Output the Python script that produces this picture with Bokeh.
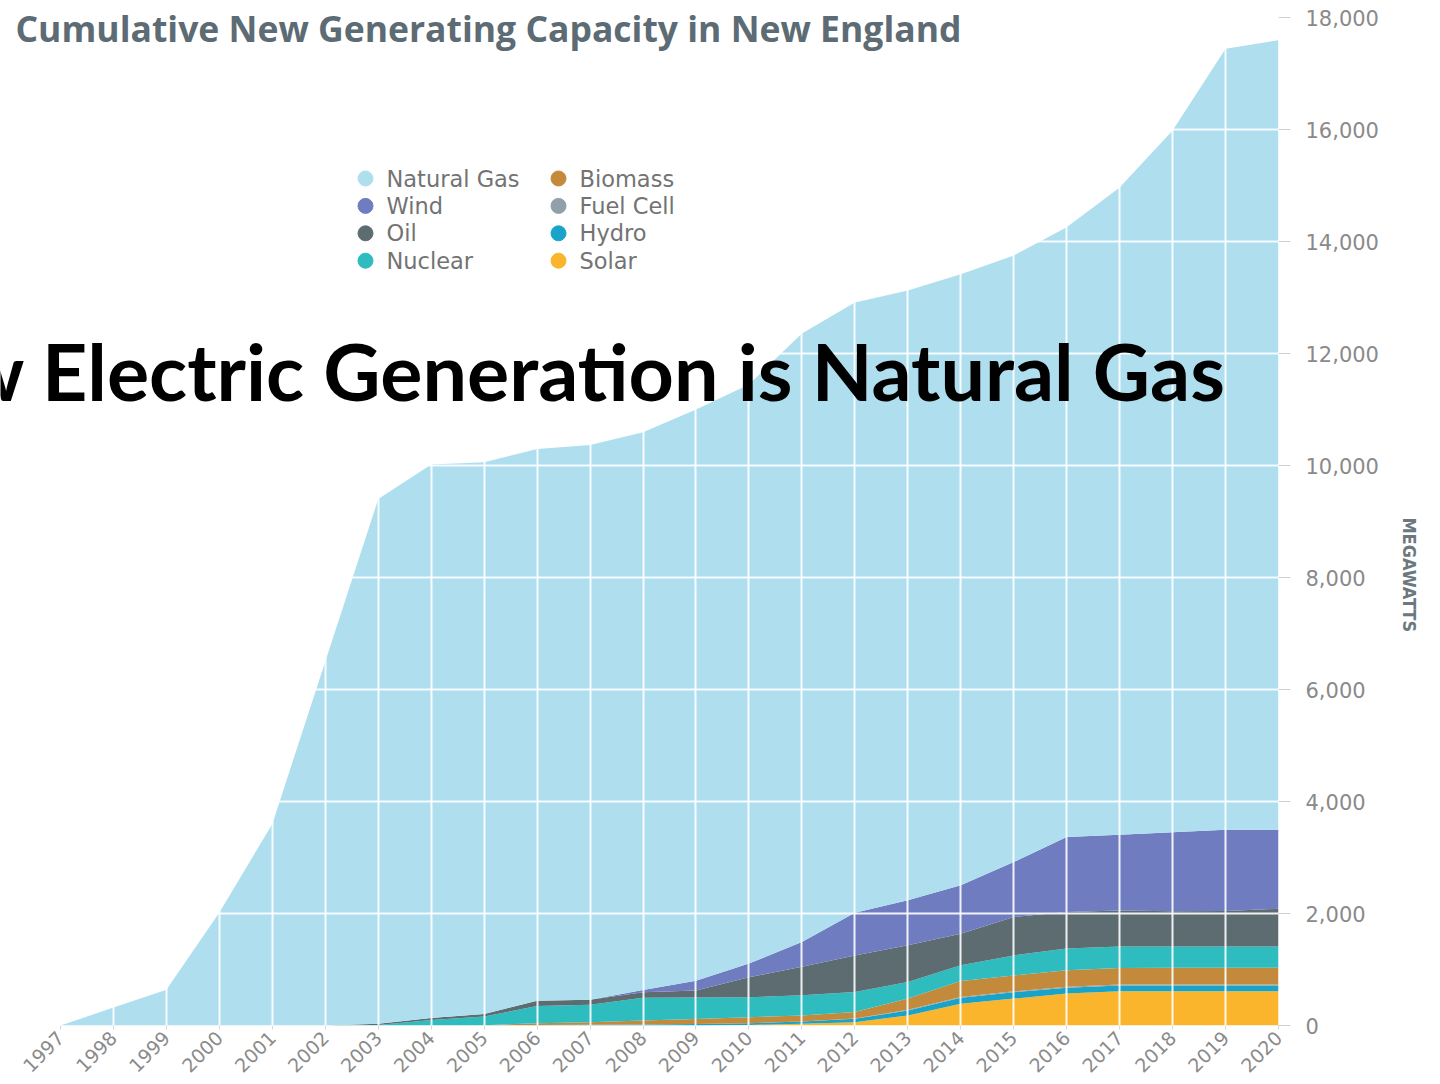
from bokeh.plotting import figure
from bokeh.models import ColumnDataSource, FixedTicker, NumeralTickFormatter, Label, Title
from bokeh.embed import file_html
from bokeh.resources import INLINE
from bokeh.core.properties import value
import math

# ---------------- data (MW, cumulative new capacity, by fuel) ----------------
years = list(range(1997, 2021))
solar = [0, 0, 0, 0, 0, 0, 0, 0, 0, 0, 0, 0, 0, 10, 30, 60, 180, 390, 480, 570, 610, 610, 610, 610]
hydro = [0, 0, 0, 0, 0, 0, 0, 0, 0, 10, 15, 20, 25, 30, 40, 60, 90, 105, 115, 105, 105, 105, 105, 105]
fuel_cell = [0, 0, 0, 0, 0, 0, 0, 0, 0, 0, 0, 0, 0, 0, 0, 5, 10, 15, 15, 15, 15, 15, 15, 15]
biomass = [0, 0, 0, 0, 0, 0, 0, 0, 5, 30, 45, 70, 90, 108, 107, 115, 200, 285, 285, 295, 295, 300, 300, 300]
nuclear = [0, 0, 0, 0, 0, 0, 10, 100, 155, 308, 309, 405, 387, 356, 362, 357, 298, 279, 357, 388, 386, 380, 380, 380]
oil = [0, 0, 0, 0, 0, 0, 20, 36, 47, 96, 89, 100, 124, 357, 510, 655, 655, 566, 684, 654, 644, 630, 635, 673]
wind = [0, 0, 0, 0, 0, 0, 0, 0, 0, 0, 0, 37, 174, 247, 440, 760, 803, 863, 983, 1339, 1351, 1412, 1449, 1411]
natural_gas = [0, 320, 640, 2020, 3600, 6500, 9370, 9880, 9850, 9850, 9910, 9960, 10200, 10340, 10870,
               10900, 10890, 10910, 10830, 10890, 11560, 12530, 13950, 14100]

series_names = ["Solar", "Hydro", "Fuel Cell", "Biomass", "Nuclear", "Oil", "Wind", "Natural Gas"]
series_values = [solar, hydro, fuel_cell, biomass, nuclear, oil, wind, natural_gas]
series_colors = ["#fbb52c", "#18a4c9", "#8fa0a8", "#c48a3c", "#2ebcbf", "#5c6c70", "#6f7cc0", "#afdfef"]

legend_order = ["Natural Gas", "Wind", "Oil", "Nuclear", "Biomass", "Fuel Cell", "Hydro", "Solar"]
y_ticks = list(range(0, 18001, 2000))

title_text = "Cumulative New Generating Capacity in New England"
overlay_text = "New Electric Generation is Natural Gas"
axis_title = "MEGAWATTS"

# ---------------- geometry (page pixels) ----------------
W, H = 1440, 1084
PX0, PX1 = 60, 1278      # page x of first / last year
PY0, PYT = 1025, 17      # page y of 0 / 18000
xpx = (PX1 - PX0) / (years[-1] - years[0])
ypx = (PY0 - PYT) / 18000.0
x_start = years[0] - PX0 / xpx
y_end = PY0 / ypx


def px2x(px):
    return years[0] + (px - PX0) / xpx


def py2y(py):
    return (PY0 - py) / ypx


src = ColumnDataSource(dict(year=years, **{n: v for n, v in zip(series_names, series_values)}))

p = figure(width=W, height=H, x_range=(x_start, years[-1]), y_range=(0, y_end),
           output_backend="svg", toolbar_location=None, title=None,
           y_axis_location="right",
           min_border_left=0, min_border_top=0,
           min_border_right=W - PX1, min_border_bottom=H - PY0)
p.outline_line_color = None
p.background_fill_color = "white"
p.border_fill_color = "white"

p.varea_stack(stackers=series_names, x="year", color=series_colors, source=src)

# grid drawn over the areas
p.xgrid.ticker = FixedTicker(ticks=years)
p.ygrid.ticker = FixedTicker(ticks=y_ticks)
for g in (p.xgrid, p.ygrid):
    g.grid_line_color = "white"
    g.grid_line_width = 2
    g.grid_line_alpha = 0.9
    g.level = "guide"

# x axis
xa = p.xaxis[0]
xa.ticker = FixedTicker(ticks=years)
xa.major_label_orientation = math.pi / 4
xa.axis_line_color = None
xa.major_tick_line_color = "#d8d8d8"
xa.major_tick_out = 4
xa.major_tick_in = 0
xa.minor_tick_line_color = None
xa.major_label_standoff = 5
xa.major_label_text_font = "DejaVu Sans"
xa.major_label_text_font_size = "19px"
xa.major_label_text_color = "#8a8a8a"

# y axis (right)
ya = p.yaxis[0]
ya.ticker = FixedTicker(ticks=y_ticks)
ya.formatter = NumeralTickFormatter(format="0,0")
ya.axis_line_color = None
ya.major_tick_line_color = "#d0d0d0"
ya.major_tick_out = 12
ya.major_tick_in = 0
ya.minor_tick_line_color = None
ya.major_label_standoff = 15
ya.major_label_text_font = "DejaVu Sans"
ya.major_label_text_font_size = "21px"
ya.major_label_text_color = "#8a8a8a"

# axis title in the right-hand panel, beside the tick labels
p.add_layout(Title(text=axis_title, align="left", offset=517, standoff=35,
                   text_font="DejaVu Sans Condensed", text_font_style="bold",
                   text_font_size="18px", text_color="#6b7880"), "right")

# legend (two columns of dots + names)
color_of = dict(zip(series_names, series_colors))
lx, ly, tx, lc = [], [], [], []
for i, name in enumerate(legend_order):
    col, row = divmod(i, 4)
    mx = 365 if col == 0 else 558
    my = 178 + 27.4 * row
    lx.append(px2x(mx))
    ly.append(py2y(my))
    tx.append(px2x(mx + 21))
    lc.append(color_of[name])
leg_dots = p.scatter(x=lx, y=ly, size=15, marker="circle", color=lc)
leg_dots.level = "annotation"
leg_text = p.text(x=tx, y=ly, text=legend_order, text_font=value("DejaVu Sans"),
                  text_font_size="22.5px", text_color="#737373", text_baseline="middle")
leg_text.level = "annotation"

# title
p.add_layout(Label(x=px2x(15), y=py2y(27), text=title_text, text_font="Open Sans",
                   text_font_style="bold", text_font_size="35.5px", text_color="#5c6b74",
                   text_baseline="middle"))

# overlay headline
p.add_layout(Label(x=px2x(1226), y=py2y(370), text=overlay_text,
                   text_font="Lato",
                   text_font_style="bold", text_font_size="79px", text_color="black",
                   text_align="right", text_baseline="alphabetic"))

open("out.html", "w").write(file_html(p, INLINE))
